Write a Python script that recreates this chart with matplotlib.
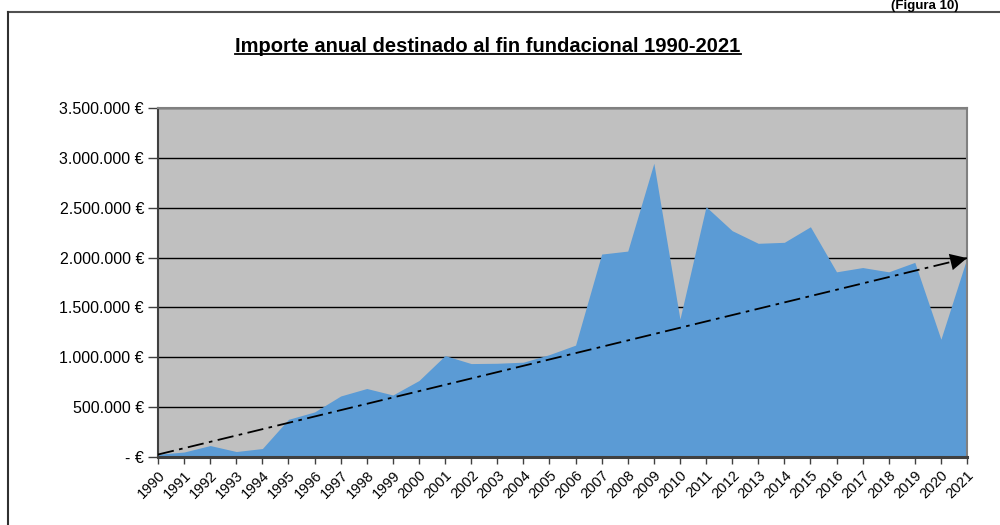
import matplotlib
matplotlib.use("Agg")
import matplotlib.pyplot as plt
from matplotlib.lines import Line2D
from matplotlib.ticker import FuncFormatter, MultipleLocator

plt.rcParams['font.family'] = ['Liberation Sans', 'DejaVu Sans']

years = list(range(1990, 2022))
importe = [28000, 50000, 115000, 55000, 85000, 378000, 452000, 612000, 687000, 622000,
           767000, 1017000, 937000, 940000, 951000, 1027000, 1122000, 2035000, 2065000, 2946000,
           1383000, 2510000, 2270000, 2143000, 2153000, 2309000, 1857000, 1900000, 1857000, 1952000,
           1181000, 1998000]
# extremos de la línea de tendencia
trend_years = [1990, 2021]
trend_vals = [25000, 1995000]


def euros(v, pos):
    if v == 0:
        return "- €"
    return "{:,.0f} €".format(v).replace(",", ".")


fig = plt.figure(figsize=(10, 5.25), dpi=100)
ax = fig.add_axes([0.158, 0.1295, 0.809, 0.6648])
ax.set_facecolor('#C0C0C0')

ax.fill_between(years, importe, 0, color='#5B9BD5', lw=0, zorder=2)
ax.plot(trend_years, trend_vals, color='black', lw=1.3, ls=(0, (9, 3, 2, 3)), zorder=3)
ax.annotate('', xy=(trend_years[1], trend_vals[1]), xytext=(trend_years[1] - 0.9, trend_vals[1] - 57000),
            arrowprops=dict(arrowstyle='-|>', color='black', mutation_scale=30, lw=0,
                            shrinkA=0, shrinkB=0), zorder=4)

ax.set_xlim(1990, 2021)
ax.set_ylim(0, 3500000)
ax.yaxis.set_major_locator(MultipleLocator(500000))
ax.yaxis.set_major_formatter(FuncFormatter(euros))
ax.grid(axis='y', color='black', lw=1)
ax.set_axisbelow(True)

ax.set_xticks(years)
ax.set_xticklabels([str(y) for y in years], rotation=45, ha='right', va='top',
                   rotation_mode='anchor', fontsize=10.5)
ax.tick_params(axis='x', length=5, width=1, color='#404040', pad=3)
ax.tick_params(axis='y', length=7, width=1, color='#404040', labelsize=11.5, pad=3)

for s in ['top', 'right']:
    ax.spines[s].set_color('#808080')
    ax.spines[s].set_linewidth(1.5)
ax.spines['left'].set_color('#404040')
ax.spines['left'].set_linewidth(1.5)
ax.spines['bottom'].set_color('#404040')
ax.spines['bottom'].set_linewidth(2.2)

title = fig.text(0.488, 1 - 46 / 525, 'Importe anual destinado al fin fundacional 1990-2021',
                 ha='center', va='center', fontsize=14.5, fontweight='bold')
fig.text(0.925, 1 - 0.5 / 525, '(Figura 10)', ha='center', va='top', fontsize=9.5, fontweight='bold')

# marco exterior
fig.add_artist(Line2D([0.008, 1.0], [1 - 12 / 525, 1 - 12 / 525], color='#505050', lw=1.5))
fig.add_artist(Line2D([0.008, 0.008], [0, 1 - 12 / 525], color='#303030', lw=1.5))

# subrayado del título
fig.canvas.draw()
bb = title.get_window_extent().transformed(fig.transFigure.inverted())
fig.add_artist(Line2D([bb.x0, bb.x1], [bb.y0 + 0.002, bb.y0 + 0.002], color='black', lw=1.3))

fig.savefig('out.png', dpi=100)
